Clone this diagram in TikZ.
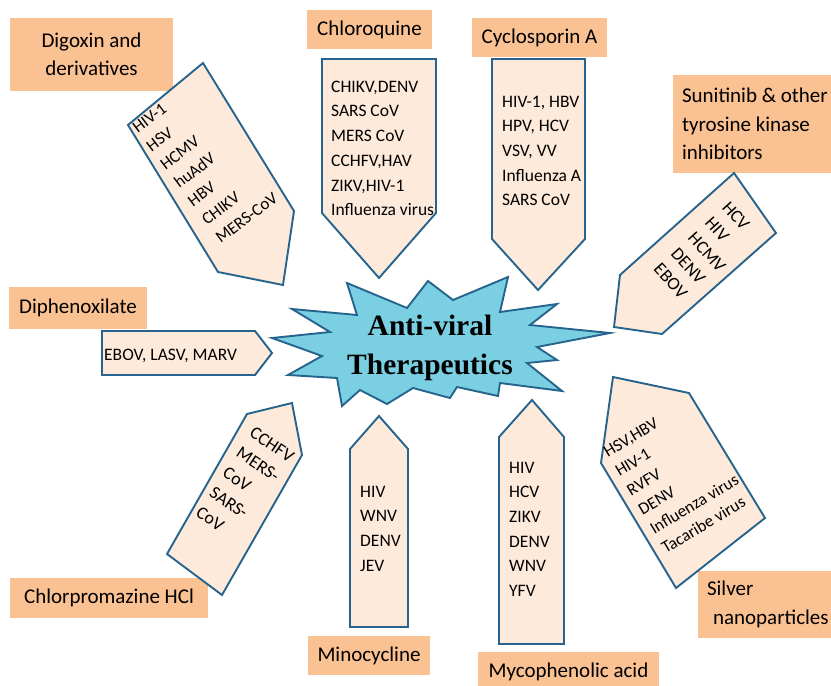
\documentclass[tikz,border=0pt]{standalone}
\usepackage{fontspec}
\setmainfont{Carlito}
\newfontfamily\headfont{Liberation Serif}
\usepackage{xcolor}
\definecolor{lblorange}{RGB}{250,193,147}
\definecolor{blkfill}{RGB}{253,234,218}
\definecolor{blkline}{RGB}{38,100,142}
\definecolor{starfill}{RGB}{122,208,226}

\begin{document}
\begin{tikzpicture}[x=1pt,y=-1pt,
	lbl/.style={fill=lblorange,inner sep=0pt,align=center,font=\fontsize{21}{28.5}\selectfont},
	blk/.style={fill=blkfill,draw=blkline,line width=1.9pt,line join=miter},
	vir/.style={inner sep=0pt,align=left,anchor=north west,font=\fontsize{17.5}{24.7}\selectfont},
	virs/.style={vir,font=\fontsize{17}{23}\selectfont}]
	\useasboundingbox (0,0) rectangle (831,686);
	
	% drug labels
	\node[lbl,minimum width=163pt,minimum height=73pt] (digL) at (91.5,54.5) {Digoxin and\\derivatives};
	\node[lbl,minimum width=125pt,minimum height=39pt] (chlL) at (369.5,29.5) {Chloroquine};
	\node[lbl,minimum width=135pt,minimum height=39pt] (cycL) at (539.5,37.5) {Cyclosporin A};
	\node[lbl,minimum width=158pt,minimum height=98pt] (sunL) at (752,124) {};
	\node[lbl,fill=none,anchor=west,align=left] (sunT) at ([xshift=9pt]sunL.west) {Sunitinib \& other\\tyrosine kinase\\inhibitors};
	\node[lbl,minimum width=138pt,minimum height=42pt] (dipL) at (78,308) {Diphenoxilate};
	\node[lbl,minimum width=198pt,minimum height=40pt] (chpL) at (109,598) {Chlorpromazine HCl};
	\node[lbl,minimum width=122pt,minimum height=39pt] (minL) at (369,655.5) {Minocycline};
	\node[lbl,minimum width=181pt,minimum height=39pt] (mycL) at (568.5,671.5) {Mycophenolic acid};
	\node[lbl,minimum width=133pt,minimum height=67pt] (silL) at (764.5,604.5) {};
	\node[lbl,fill=none,anchor=west,align=left] (silT) at ([xshift=9pt]silL.west) {Silver\\\hspace*{6pt}nanoparticles};
	
	% block arrows
	\draw[blk] (128,125) -- (203,63) -- (294,211) -- (283,285) -- (218,272) -- cycle;
	\draw[blk] (322,59) -- (436,59) -- (436,213) -- (379,278) -- (322,213) -- cycle;
	\draw[blk] (492,59) -- (585,59) -- (585,239) -- (538,290) -- (492,239) -- cycle;
	\draw[blk] (734,173) -- (776,233) -- (662,334) -- (614,327) -- (620,275) -- cycle;
	\draw[blk] (102,331) -- (255,331) -- (272,353) -- (255,375) -- (102,375) -- cycle;
	\draw[blk] (247,414) -- (292,403) -- (302,455) -- (222,595) -- (167,554) -- cycle;
	\draw[blk] (379,416) -- (408,449) -- (408,627) -- (350,627) -- (350,449) -- cycle;
	\draw[blk] (532,400) -- (564,437) -- (564,644) -- (499,644) -- (499,437) -- cycle;
	\draw[blk] (613,377) -- (689,393) -- (765,518) -- (676,588) -- (601,463) -- cycle;
	
	% virus lists
	\node[virs,rotate=37] (digV) at (131,125) {HIV-1\\HSV\\HCMV\\huAdV\\HBV\\CHIKV\\MERS-CoV};
	\node[vir] (chlV) at (331,80.7) {CHIKV,DENV\\SARS CoV\\MERS CoV\\CCHFV,HAV\\ZIKV,HIV-1\\Influenza virus};
	\node[vir] (cycV) at (502,95.7) {HIV-1, HBV\\HPV, HCV\\VSV, VV\\Influenza A\\SARS CoV};
	\node[vir,rotate=-48,font=\fontsize{18}{23}\selectfont] (sunV) at (730,200) {HCV\\HIV\\HCMV\\DENV\\EBOV};
	\node[vir,anchor=base west] (dipV) at (104,360) {EBOV, LASV, MARV};
	\node[vir,rotate=-34,font=\fontsize{18}{24}\selectfont] (chpV) at (255,426) {CCHFV\\MERS-\\CoV\\SARS-\\CoV};
	\node[vir] (minV) at (360,485.7) {HIV\\WNV\\DENV\\JEV};
	\node[vir] (mycV) at (509,461.7) {HIV\\HCV\\ZIKV\\DENV\\WNV\\YFV};
	\node[virs,rotate=31,font=\fontsize{17}{22.5}\selectfont] (silV) at (602,448) {HSV,HBV\\HIV-1\\RVFV\\DENV\\Influenza virus\\Tacaribe virus};
	
	% centre star
	\draw[fill=starfill,draw=blkline,line width=1.9pt,line join=miter]
	(272,338) -- (330,332) -- (292,309) -- (357,315) -- (347,283) -- (407,308)
	-- (428,281) -- (453,300) -- (508,277) -- (500,312) -- (557,304) -- (530,325)
	-- (610,333) -- (537,347) -- (557,360) -- (527,363) -- (562,391) -- (500,383)
	-- (498,396) -- (457,387) -- (450,398) -- (413,388) -- (387,404) -- (360,390)
	-- (342,406) -- (337,378) -- (288,375) -- (322,356) -- cycle;
	\node[align=center,inner sep=0pt,font=\headfont\bfseries\fontsize{29.5}{39}\selectfont] (title) at (430,348) {Anti-viral\\Therapeutics};
\end{tikzpicture}
\end{document}
